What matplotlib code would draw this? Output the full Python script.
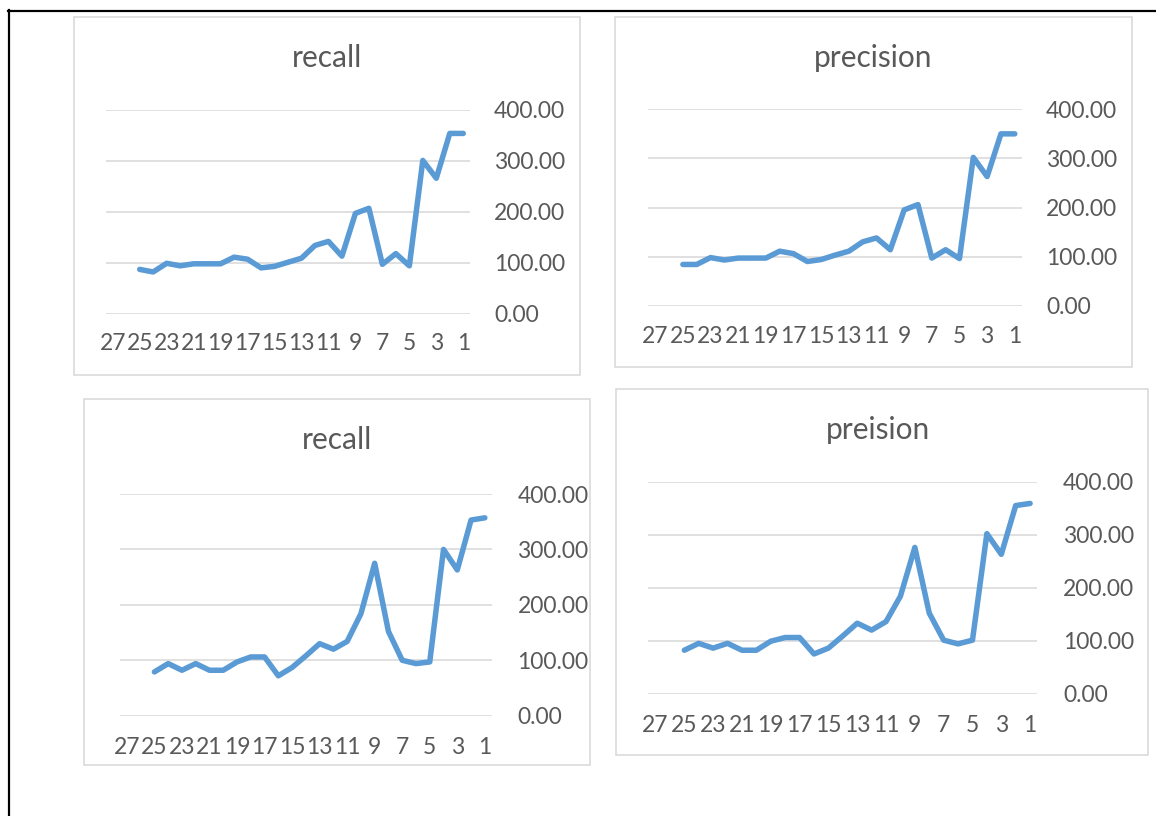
import matplotlib
matplotlib.use("Agg")
import matplotlib.pyplot as plt
from matplotlib.lines import Line2D
from matplotlib.patches import Rectangle

plt.rcParams['font.family'] = ['Lato', 'DejaVu Sans']

W, H = 1156, 816

# category axis runs 27 -> 1, data only from 25 down to 1
categories = list(range(27, 0, -1))
tick_cats = list(range(27, 0, -2))
series_cats = list(range(25, 0, -1))

recall_top = [87, 82, 99, 94, 98, 98, 98, 111, 107, 90, 93, 101, 109,
              134, 142, 113, 197, 207, 97, 118, 94, 301, 266, 354, 354]
precision_top = [84, 84, 98, 93, 97, 97, 97, 111, 106, 90, 94, 103, 111,
                 130, 138, 114, 195, 206, 97, 114, 96, 302, 263, 350, 350]
recall_bottom = [79, 94, 82, 94, 82, 82, 97, 106, 106, 72, 87, 108, 130,
                 120, 134, 184, 275, 152, 100, 94, 97, 300, 263, 353, 357]
preision_bottom = [82, 95, 86, 95, 82, 82, 99, 106, 106, 75, 86, 109, 133,
                   120, 136, 184, 276, 152, 101, 94, 101, 302, 263, 355, 359]

y_ticks = [0, 100, 200, 300, 400]

LINE = '#5B9BD5'
GRID = '#D9D9D9'
TXT = '#595959'
PT = 72 / 100  # px -> pt at dpi 100


def fx(px):
    return px / W


def fy(py):
    return 1 - py / H


fig = plt.figure(figsize=(W / 100, H / 100), dpi=100)

# black frame (left and top)
fig.add_artist(Line2D([fx(8.5), fx(8.5)], [fy(10), fy(816)], color='black', lw=2.2 * PT))
fig.add_artist(Line2D([fx(7.5), fx(1156)], [fy(10.5), fy(10.5)], color='black', lw=2.2 * PT))


def chart(box, grid, title, title_pos, values, ylab_x, xlab_y):
    bx0, by0, bx1, by1 = box
    fig.add_artist(Rectangle((fx(bx0), fy(by1)), fx(bx1 - bx0), (by1 - by0) / H,
                             transform=fig.transFigure, fill=False,
                             edgecolor=GRID, lw=1.6 * PT))
    gx0, gy_top, gx1, gy_bot = grid
    ax = fig.add_axes([fx(gx0), fy(gy_bot), fx(gx1 - gx0), (gy_bot - gy_top) / H])
    ax.set_facecolor('none')

    pos = [categories.index(c) for c in series_cats]
    ax.plot(pos, values, color=LINE, lw=5.5 * PT, solid_capstyle='round',
            solid_joinstyle='round', zorder=3)

    ax.set_xlim(-0.5, len(categories) - 0.5)
    ax.set_ylim(0, 400)
    ax.set_yticks(y_ticks)
    ax.set_yticklabels([f'{v:.2f}' for v in y_ticks])
    ax.set_xticks([categories.index(c) for c in tick_cats])
    ax.set_xticklabels([str(c) for c in tick_cats])
    ax.yaxis.tick_right()
    ax.grid(axis='y', color=GRID, lw=1.6 * PT)
    ax.set_axisbelow(True)
    for s in ax.spines.values():
        s.set_visible(False)
    ax.tick_params(axis='y', length=0, pad=(ylab_x - gx1) * PT, labelsize=16.5, labelcolor=TXT)
    ax.tick_params(axis='x', length=0, pad=(xlab_y - gy_bot) * PT, labelsize=16.5, labelcolor=TXT)
    for lbl in ax.get_xticklabels():
        lbl.set_va('center')

    fig.text(fx(title_pos[0]), fy(title_pos[1]), title, ha='center', va='center',
             fontsize=21.5, color=TXT)


chart((73.5, 16.7, 580, 375), (106, 110, 470, 313.7), 'recall', (327, 58),
      recall_top, 494, 344)
chart((615, 16.7, 1131.5, 366.7), (648.3, 109.3, 1021.7, 305.7), 'precision', (873, 58),
      precision_top, 1046, 336.7)
chart((83.5, 399, 590, 765), (120, 494, 491.7, 715.7), 'recall', (337, 440),
      recall_bottom, 517.5, 748)
chart((616, 389, 1148, 755), (648.3, 481.7, 1037.3, 693.7), 'preision', (877.6, 430),
      preision_bottom, 1063, 725)

fig.savefig('out.png', dpi=100)
